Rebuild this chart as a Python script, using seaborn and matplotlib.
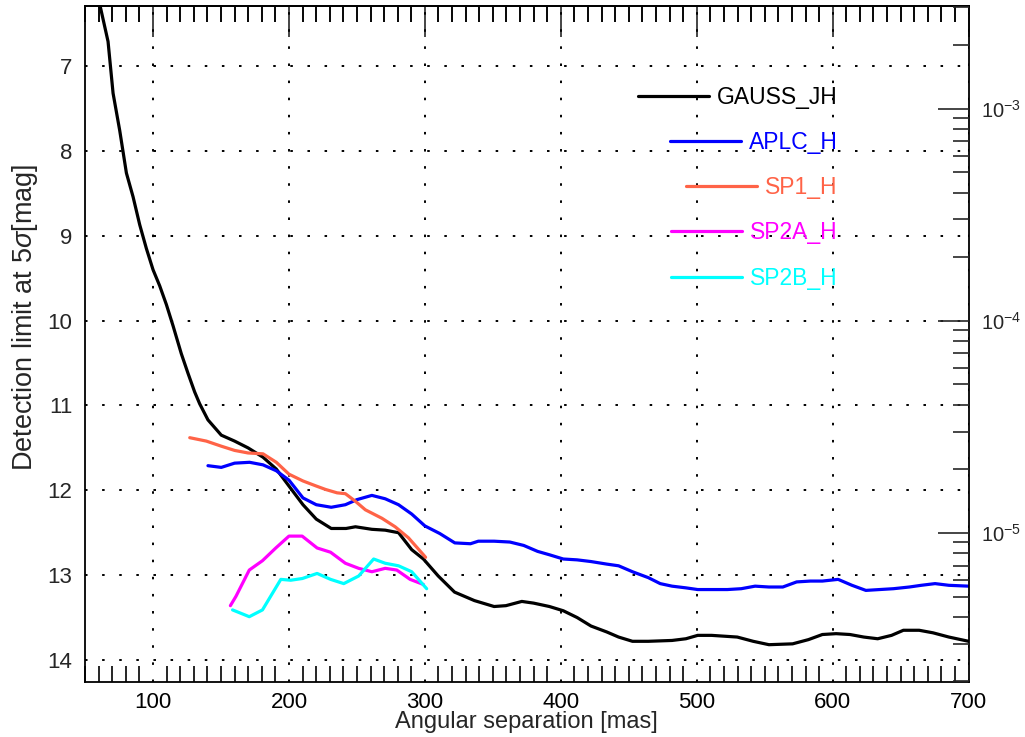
import numpy as np
import pandas as pd
import matplotlib
matplotlib.use("Agg")
import matplotlib.pyplot as plt
import seaborn as sns
from matplotlib.ticker import MultipleLocator, FixedLocator, LogLocator, NullFormatter

# ---------------- data ----------------
gauss_sep = [60.5, 66.9, 70.6, 75.5, 80.4, 85.3, 90.2, 95.1, 100, 104.9, 109.8, 114.7, 120.8, 125.7,
             130.6, 134.3, 140.4, 150.2, 160, 169.9, 180.9, 190.7, 200, 210.3, 220.1, 231.1, 242,
             248.9, 261, 270.8, 280.6, 290.3, 298.9, 309.8, 321.8, 336.4, 350.9, 359.6, 371.3, 380,
             391.6, 401.8, 412, 422.2, 433.8, 442.5, 452.7, 464.4, 481.8, 492, 500.7, 510.9, 529.8,
             541.5, 553.1, 570.5, 582.2, 592.4, 602.5, 612.7, 622.9, 633.1, 643.3, 652, 663.6, 673.8,
             685.5, 700]
gauss_mag = [6.25, 6.71, 7.32, 7.76, 8.26, 8.54, 8.87, 9.15, 9.40, 9.59, 9.81, 10.06, 10.39, 10.62,
             10.84, 10.98, 11.17, 11.35, 11.42, 11.50, 11.61, 11.75, 11.95, 12.17, 12.34, 12.45, 12.45,
             12.43, 12.46, 12.47, 12.50, 12.70, 12.81, 13.01, 13.20, 13.30, 13.37, 13.36, 13.31, 13.33,
             13.37, 13.42, 13.50, 13.60, 13.67, 13.73, 13.78, 13.78, 13.77, 13.75, 13.71, 13.71, 13.73,
             13.78, 13.82, 13.81, 13.76, 13.70, 13.69, 13.70, 13.73, 13.75, 13.71, 13.65, 13.65, 13.68,
             13.73, 13.78]

aplc_sep = [140.4, 150.2, 160, 171, 180.9, 190.7, 200, 210.3, 220.1, 231.1, 241.5, 250, 261, 270.8,
            280.6, 290.3, 300, 311, 322, 333.5, 339.3, 350.9, 362.5, 372.7, 382.9, 391.6, 401.8, 412,
            422.2, 433.8, 442.5, 452.7, 464.4, 473.1, 481.8, 492, 500.7, 510.9, 522.5, 532.7, 542.9,
            553.1, 563.3, 573.5, 583.6, 592.4, 604, 614.2, 624.4, 634.5, 644.7, 656.4, 665.1, 675.3,
            685.5, 700]
aplc_mag = [11.71, 11.73, 11.68, 11.67, 11.70, 11.77, 11.88, 12.09, 12.17, 12.20, 12.17, 12.11, 12.06,
            12.10, 12.17, 12.28, 12.42, 12.51, 12.62, 12.63, 12.60, 12.60, 12.61, 12.65, 12.72, 12.76,
            12.81, 12.82, 12.84, 12.87, 12.89, 12.96, 13.03, 13.10, 13.13, 13.15, 13.17, 13.17, 13.17,
            13.16, 13.13, 13.14, 13.14, 13.08, 13.07, 13.07, 13.05, 13.12, 13.18, 13.17, 13.16, 13.14,
            13.12, 13.10, 13.12, 13.13]

sp1_sep = [127, 139.2, 150.2, 160, 169.9, 180.9, 190.7, 200, 210.3, 220.1, 226.9, 235.4, 241.5, 248.9,
           256.2, 268.4, 278.1, 287.9, 298.9, 300.5]
sp1_mag = [11.38, 11.42, 11.48, 11.53, 11.56, 11.57, 11.67, 11.81, 11.89, 11.95, 11.99, 12.03, 12.04,
           12.13, 12.23, 12.33, 12.43, 12.56, 12.76, 12.79]

sp2a_sep = [156.9, 161, 170.8, 180.5, 190.3, 200, 209.7, 220.7, 230.6, 241.5, 251.3, 261, 270.8, 279.3,
            289.1, 298.9]
sp2a_mag = [13.36, 13.25, 12.94, 12.83, 12.68, 12.54, 12.54, 12.68, 12.73, 12.86, 12.92, 12.96, 12.92,
            12.94, 13.05, 13.11]

sp2b_sep = [158.5, 170.8, 180.5, 194, 201.3, 209.8, 220.7, 230.6, 240.3, 251.3, 262.3, 270.8, 280.6,
            290.3, 301.3]
sp2b_mag = [13.41, 13.49, 13.41, 13.05, 13.06, 13.04, 12.98, 13.05, 13.10, 13.01, 12.81, 12.86, 12.89,
            12.96, 13.16]

curve_names = ["GAUSS_JH", "APLC_H", "SP1_H", "SP2A_H", "SP2B_H"]
curve_colors = ["#000000", "#0000FF", "#FF6347", "#FF00FF", "#00FFFF"]

x_ticks = [100, 200, 300, 400, 500, 600, 700]
y_ticks = [7, 8, 9, 10, 11, 12, 13, 14]
contrast_ticks = [1e-3, 1e-4, 1e-5]
contrast_labels = [r"$\mathregular{10^{-3}}$", r"$\mathregular{10^{-4}}$", r"$\mathregular{10^{-5}}$"]

# ---------------- build frame ----------------
frames = []
for name, s, m in zip(curve_names,
                      [gauss_sep, aplc_sep, sp1_sep, sp2a_sep, sp2b_sep],
                      [gauss_mag, aplc_mag, sp1_mag, sp2a_mag, sp2b_mag]):
    frames.append(pd.DataFrame({"sep": s, "mag": m, "curve": name}))
df = pd.concat(frames, ignore_index=True)

# ---------------- style ----------------
sns.set_style("ticks")
plt.rcParams["font.family"] = ["Liberation Sans", "DejaVu Sans"]
plt.rcParams["mathtext.fontset"] = "custom"
plt.rcParams["mathtext.rm"] = "Liberation Sans"
plt.rcParams["mathtext.it"] = "Liberation Sans:italic"
plt.rcParams["axes.linewidth"] = 1.3
plt.rcParams["axes.edgecolor"] = "black"

fig = plt.figure(figsize=(10.25, 7.37), dpi=100)
ax = fig.add_axes([0.083, 0.0746, 0.862, 0.9174])

sns.lineplot(data=df, x="sep", y="mag", hue="curve", hue_order=curve_names,
             palette=dict(zip(curve_names, curve_colors)), sort=False, estimator=None,
             units="curve", linewidth=2.3, ax=ax, legend=True)

ymin_mag, ymax_mag = 14.26, 6.29
ax.set_xlim(50, 700)
ax.set_ylim(ymin_mag, ymax_mag)

ax.xaxis.set_major_locator(FixedLocator(x_ticks))
ax.xaxis.set_minor_locator(MultipleLocator(10))
ax.yaxis.set_major_locator(FixedLocator(y_ticks))

ax.grid(True, which="major", color="black", linestyle=(0, (1.3, 7.5)), linewidth=1.4)
ax.tick_params(axis="x", which="major", direction="in", length=0, labelsize=16, pad=7,
               bottom=True, top=False, colors="black")
ax.tick_params(axis="x", which="minor", direction="in", length=11.5, width=1.2,
               bottom=True, top=True, color="black")
ax.tick_params(axis="y", which="both", length=0, labelsize=16, pad=9, left=True, right=False)

# top axis with solid major ticks
top = ax.secondary_xaxis("top")
top.xaxis.set_major_locator(FixedLocator(x_ticks))
top.xaxis.set_minor_locator(MultipleLocator(10))
top.tick_params(axis="x", which="major", direction="in", length=22, width=1.2, labeltop=False)
top.tick_params(axis="x", which="minor", direction="in", length=11.5, width=1.2)
top.xaxis.set_minor_formatter(NullFormatter())

# right contrast axis
ax2 = ax.twinx()
ax2.set_yscale("log")
ax2.set_ylim(10 ** (-0.4 * ymin_mag), 10 ** (-0.4 * ymax_mag))
ax2.yaxis.set_major_locator(FixedLocator(contrast_ticks))
ax2.set_yticklabels(contrast_labels)
ax2.yaxis.set_minor_locator(LogLocator(base=10, subs=np.arange(2, 10)))
ax2.yaxis.set_minor_formatter(NullFormatter())
ax2.tick_params(axis="y", which="major", direction="in", length=22, width=1.2, labelsize=14.5, pad=9)
ax2.tick_params(axis="y", which="minor", direction="in", length=11.5, width=1.2)
for sp in ax2.spines.values():
    sp.set_visible(False)

ax.set_xlabel("Angular separation [mas]", fontsize=17, labelpad=-1)
ax.set_ylabel(r"Detection limit at 5$\sigma$[mag]", fontsize=19.5)
ax.yaxis.set_label_coords(-0.051, 0.54)

# legend
handles, labels = ax.get_legend_handles_labels()
if ax.get_legend() is not None:
    ax.get_legend().remove()
leg = ax.legend(handles, labels, loc="upper right", bbox_to_anchor=(0.852, 0.882),
                frameon=False, fontsize=16.5, handlelength=3.1, handletextpad=0.35,
                labelspacing=0.97, borderpad=0, borderaxespad=0, labelcolor="linecolor")
for h in leg.get_lines():
    h.set_linewidth(2.3)
try:
    for col in leg._legend_handle_box.get_children():
        col.align = "right"
except Exception:
    pass

fig.savefig("out.png", dpi=100)
